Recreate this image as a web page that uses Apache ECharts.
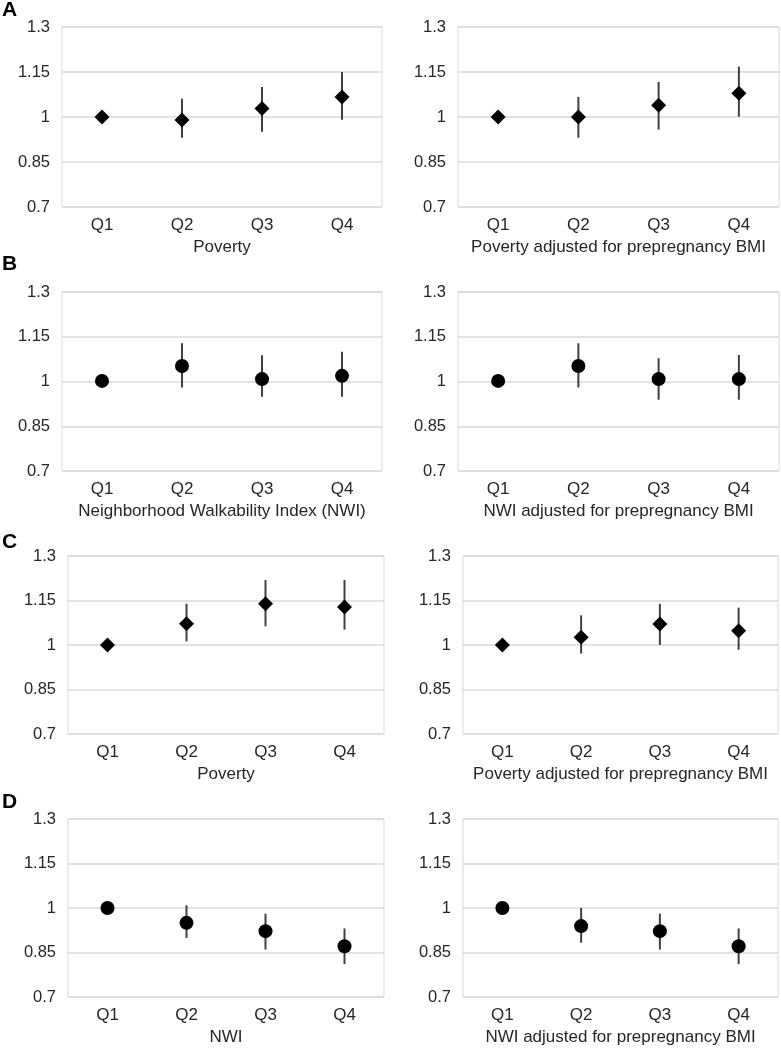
<!DOCTYPE html>
<html>
<head>
<meta charset="utf-8">
<script src="https://cdn.jsdelivr.net/npm/echarts@6/dist/echarts.min.js"></script>
<style>
  html, body { margin: 0; padding: 0; background: #fff; }
  #chart { width: 781px; height: 1050px; }
</style>
</head>
<body>
<div id="chart"></div>
<script>
// categories
const quartiles = ['Q1', 'Q2', 'Q3', 'Q4'];
const yTicks = [0.7, 0.85, 1, 1.15, 1.3];
const panelLetters = ['A', 'B', 'C', 'D'];

// A: poverty (diamonds)
const aPovEst = [1, 0.99, 1.028, 1.067];
const aPovLow = [1, 0.931, 0.951, 0.991];
const aPovHigh = [1, 1.061, 1.10, 1.15];
const aBmiEst = [1, 1.0, 1.039, 1.079];
const aBmiLow = [1, 0.931, 0.958, 1.001];
const aBmiHigh = [1, 1.067, 1.117, 1.168];

// B: NWI (circles)
const bNwiEst = [1.002, 1.052, 1.008, 1.019];
const bNwiLow = [1, 0.98, 0.949, 0.949];
const bNwiHigh = [1, 1.128, 1.088, 1.10];
const bBmiEst = [1.002, 1.052, 1.008, 1.008];
const bBmiLow = [1, 0.98, 0.939, 0.939];
const bBmiHigh = [1, 1.128, 1.078, 1.089];

// C: poverty (diamonds)
const cPovEst = [1, 1.072, 1.139, 1.128];
const cPovLow = [1, 1.012, 1.063, 1.052];
const cPovHigh = [1, 1.139, 1.219, 1.219];
const cBmiEst = [1, 1.026, 1.071, 1.048];
const cBmiLow = [1, 0.971, 1.0, 0.984];
const cBmiHigh = [1, 1.10, 1.139, 1.126];

// D: NWI (circles)
const dNwiEst = [1, 0.95, 0.922, 0.871];
const dNwiLow = [1, 0.899, 0.86, 0.811];
const dNwiHigh = [1, 1.009, 0.981, 0.931];
const dBmiEst = [1, 0.939, 0.922, 0.871];
const dBmiLow = [1, 0.883, 0.86, 0.811];
const dBmiHigh = [1, 1.0, 0.981, 0.931];

const panelTitles = [
  'Poverty', 'Poverty adjusted for prepregnancy BMI',
  'Neighborhood Walkability Index (NWI)', 'NWI adjusted for prepregnancy BMI',
  'Poverty', 'Poverty adjusted for prepregnancy BMI',
  'NWI', 'NWI adjusted for prepregnancy BMI'
];

const panels = [
  [aPovEst, aPovLow, aPovHigh, 'diamond'], [aBmiEst, aBmiLow, aBmiHigh, 'diamond'],
  [bNwiEst, bNwiLow, bNwiHigh, 'circle'], [bBmiEst, bBmiLow, bBmiHigh, 'circle'],
  [cPovEst, cPovLow, cPovHigh, 'diamond'], [cBmiEst, cBmiLow, cBmiHigh, 'diamond'],
  [dNwiEst, dNwiLow, dNwiHigh, 'circle'], [dBmiEst, dBmiLow, dBmiHigh, 'circle']
];

// layout (px)
const rowTop = [27, 292, 556, 819];
const rowHeight = [180, 179, 178, 178];
const colLeft = [[62, 458], [62, 458], [68, 463], [68, 463]];
const colRight = [[399, 2], [399, 2], [397, 3], [397, 3]];
const letterY = [11, 265, 543, 803];

const font = 'Liberation Sans, Arial, sans-serif';
const textColor = '#262626';
const lineGray = '#d9d9d9';

const grid = [], xAxis = [], yAxis = [], series = [], graphic = [];

panels.forEach((p, k) => {
  const row = Math.floor(k / 2), col = k % 2;
  const [est, low, high, shape] = p;
  grid.push({
    left: colLeft[row][col], right: colRight[row][col],
    top: rowTop[row], height: rowHeight[row],
    show: true, borderColor: lineGray, borderWidth: 1, backgroundColor: '#fff'
  });
  xAxis.push({
    type: 'category', gridIndex: k, data: quartiles,
    axisLine: { show: false }, axisTick: { show: false },
    axisLabel: { color: textColor, fontSize: 17, fontFamily: font, margin: 10 },
    name: panelTitles[k], nameLocation: 'middle', nameGap: 32,
    nameTextStyle: { color: textColor, fontSize: 17, fontFamily: font }
  });
  yAxis.push({
    type: 'value', gridIndex: k, min: yTicks[0], max: yTicks[yTicks.length - 1], interval: 0.15,
    axisLine: { show: false }, axisTick: { show: false },
    splitLine: { lineStyle: { color: lineGray, width: 1.5 } },
    axisLabel: {
      color: textColor, fontSize: 16.5, fontFamily: font, margin: 12,
      formatter: v => String(+v.toFixed(2))
    }
  });
  series.push({
    type: 'custom', xAxisIndex: k, yAxisIndex: k, z: 2,
    data: quartiles.map((q, i) => [i, low[i], high[i]]),
    encode: { x: 0, y: [1, 2] },
    renderItem: (params, api) => {
      const a = api.coord([api.value(0), api.value(1)]);
      const b = api.coord([api.value(0), api.value(2)]);
      return {
        type: 'line',
        shape: { x1: a[0], y1: a[1], x2: b[0], y2: b[1] },
        style: { stroke: '#404040', lineWidth: 2 }
      };
    }
  });
  series.push({
    type: 'scatter', xAxisIndex: k, yAxisIndex: k, z: 3,
    symbol: shape, symbolSize: shape === 'diamond' ? 15 : 14,
    itemStyle: { color: '#000', opacity: 1 },
    data: est
  });
});

panelLetters.forEach((t, r) => {
  graphic.push({
    type: 'text', left: 2, top: letterY[r] - 11,
    style: { text: t, fill: '#000', font: 'bold 21px ' + font }
  });
});

const myChart = echarts.init(document.getElementById('chart'));
myChart.setOption({
  animation: false,
  grid, xAxis, yAxis, series, graphic
});
</script>
</body>
</html>
